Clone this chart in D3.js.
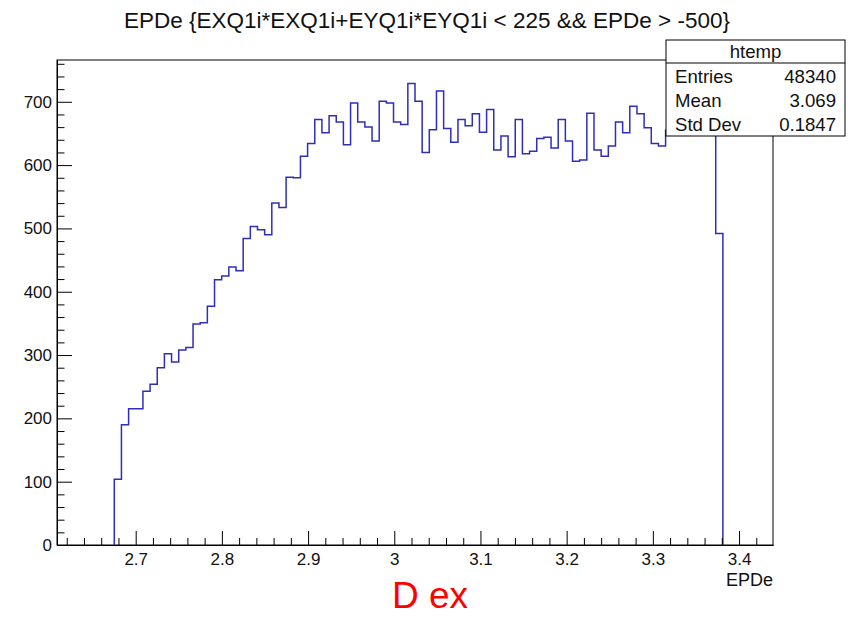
<!DOCTYPE html>
<html>
<head>
<meta charset="utf-8">
<script src="https://cdn.jsdelivr.net/npm/d3@7"></script>
<style>
  html, body { margin: 0; padding: 0; background: #fff; }
  svg { display: block; font-family: "Liberation Sans", Arial, Helvetica, sans-serif; }
</style>
</head>
<body>
<svg id="chart" width="851" height="617"></svg>
<script>
// ---- data ----
const titleText = "EPDe {EXQ1i*EXQ1i+EYQ1i*EYQ1i < 225 && EPDe > -500}";
const histName = "htemp";
const statLabels = ["Entries", "Mean", "Std Dev"];
const statValues = ["48340", "3.069", "0.1847"];
const xAxisTitle = "EPDe";
const annotation = "D ex";
const xRange = [2.6087, 3.4394];
const nBins = 100;
const firstBin = 8;
const counts = [104,190,215,215,243,254,280,302,289,308,312,349,351,377,419,425,439,433,484,503,498,490,540,533,
  581,580,614,634,672,651,678,668,632,698,668,660,638,701,698,668,664,729,701,620,656,717,
  658,636,672,662,681,652,688,624,646,613,672,618,622,642,644,627,672,638,606,608,682,624,
  614,630,668,651,693,681,659,634,630,
  655,670,650,680,665,690,700,
  492];
const yMax = 766;
const xMajorTicks = [2.7, 2.8, 2.9, 3.0, 3.1, 3.2, 3.3, 3.4];
const xTickLabels = ["2.7", "2.8", "2.9", "3", "3.1", "3.2", "3.3", "3.4"];
const xMinorTicks = [2.62,2.64,2.66,2.68,2.72,2.74,2.76,2.78,2.82,2.84,2.86,2.88,2.92,2.94,2.96,2.98,
  3.02,3.04,3.06,3.08,3.12,3.14,3.16,3.18,3.22,3.24,3.26,3.28,3.32,3.34,3.36,3.38,3.42];
const yMajorTicks = [0, 100, 200, 300, 400, 500, 600, 700];
const yMinorTicks = d3.range(0, 761, 20).filter(v => v % 100 !== 0);

// ---- layout ----
const svg = d3.select("#chart");
const plot = { left: 57, right: 773, top: 60, bottom: 545 };
const x = d3.scaleLinear().domain(xRange).range([plot.left, plot.right]);
const y = d3.scaleLinear().domain([0, yMax]).range([plot.bottom, plot.top]);
const binW = (xRange[1] - xRange[0]) / nBins;
const bins = counts.map((c, i) => ({ x0: xRange[0] + (firstBin + i) * binW, x1: xRange[0] + (firstBin + i + 1) * binW, v: c }));

// frame
svg.append("rect").attr("x", plot.left).attr("y", plot.top)
  .attr("width", plot.right - plot.left).attr("height", plot.bottom - plot.top)
  .attr("fill", "none").attr("stroke", "#000").attr("stroke-width", 1);

// histogram outline
const pts = [];
pts.push([x(bins[0].x0), y(0)]);
bins.forEach(b => { pts.push([x(b.x0), y(b.v)]); pts.push([x(b.x1), y(b.v)]); });
pts.push([x(bins[bins.length - 1].x1), y(0)]);
svg.append("path").attr("d", d3.line()(pts))
  .attr("fill", "none").attr("stroke", "#2e2eb8").attr("stroke-width", 1.5);

// axes
const fs = 17;
svg.append("g").attr("transform", `translate(0,${plot.bottom})`)
  .call(d3.axisBottom(x).tickValues(xMajorTicks).tickFormat((d, i) => xTickLabels[i])
    .tickSizeInner(-14).tickSizeOuter(0).tickPadding(7.5));
svg.append("g").attr("transform", `translate(0,${plot.bottom})`)
  .call(d3.axisBottom(x).tickValues(xMinorTicks).tickFormat("").tickSizeInner(-7).tickSizeOuter(0));
svg.append("g").attr("transform", `translate(${plot.left},0)`)
  .call(d3.axisLeft(y).tickValues(yMajorTicks).tickFormat(d3.format("d"))
    .tickSizeInner(-15).tickSizeOuter(0).tickPadding(5));
svg.append("g").attr("transform", `translate(${plot.left},0)`)
  .call(d3.axisLeft(y).tickValues(yMinorTicks).tickFormat("").tickSizeInner(-7.5).tickSizeOuter(0));
svg.selectAll(".domain").attr("stroke", "#000");
svg.selectAll(".tick line").attr("stroke", "#000");
svg.selectAll(".tick text").attr("font-size", fs).attr("fill", "#111")
  .attr("font-family", "'Liberation Sans', Arial, sans-serif");

// axis title
svg.append("text").attr("x", plot.right).attr("y", 586).attr("text-anchor", "end")
  .attr("font-size", 18).attr("fill", "#111").text(xAxisTitle);

// title
svg.append("text").attr("x", 427).attr("y", 28).attr("text-anchor", "middle")
  .attr("font-size", 22.5).attr("fill", "#111").text(titleText);

// stats box
const box = { x: 666, y: 40, w: 179, h: 96, head: 23 };
svg.append("rect").attr("x", box.x).attr("y", box.y).attr("width", box.w).attr("height", box.h)
  .attr("fill", "#fff").attr("stroke", "#000").attr("stroke-width", 1);
svg.append("line").attr("x1", box.x).attr("x2", box.x + box.w)
  .attr("y1", box.y + box.head).attr("y2", box.y + box.head).attr("stroke", "#000");
svg.append("text").attr("x", box.x + box.w / 2).attr("y", box.y + 18).attr("text-anchor", "middle")
  .attr("font-size", 18.6).attr("fill", "#111").text(histName);
statLabels.forEach((lab, i) => {
  const by = box.y + box.head + 20 + i * 24;
  svg.append("text").attr("x", box.x + 9).attr("y", by).attr("font-size", 18.6).attr("fill", "#111").text(lab);
  svg.append("text").attr("x", box.x + box.w - 9).attr("y", by).attr("text-anchor", "end")
    .attr("font-size", 18.6).attr("fill", "#111").text(statValues[i]);
});

// annotation
svg.append("text").attr("x", 430).attr("y", 608).attr("text-anchor", "middle")
  .attr("font-size", 37).attr("fill", "#ff0000").text(annotation);
</script>
</body>
</html>
